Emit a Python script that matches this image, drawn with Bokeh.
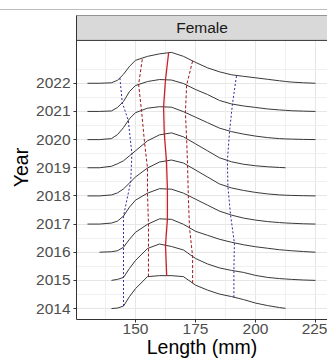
import numpy as np
from bokeh.plotting import figure
from bokeh.models import FixedTicker, Range1d, Div
from bokeh.layouts import column
from bokeh.embed import file_html
from bokeh.resources import INLINE
from bokeh.core.properties import value

# ---------------- data ----------------
years = [2014, 2015, 2016, 2017, 2018, 2019, 2020, 2021, 2022]
length_grid = [130, 135, 140, 142.5, 145, 147.5, 150, 155, 160, 165, 170, 175,
               180, 185, 190, 195, 200, 205, 210, 212.5, 215, 220, 225]
N = None
density_2014 = [N, N, 0, .0005, .0025, .012, .020, .032, .033, .033, .032, .0235,
                .0185, .0145, .012, .009, .0055, .003, .001, .0002, N, N, N]
density_2015 = [N, N, 0, .001, .003, .012, .020, .032, .0365, .034, .0305, .022,
                .0165, .0125, .010, .008, .005, .003, .0018, .0014, .001, .0004, 0]
density_2016 = [N, 0, .0005, .0015, .005, .013, .020, .028, .0335, .033, .028, .021,
                .017, .013, .010, .0075, .0055, .004, .0025, .002, .0015, .0007, 0]
density_2017 = [0, 0, .001, .003, .008, .017, .024, .031, .0355, .035, .031, .025,
                .019, .013, .009, .006, .004, .0025, .0015, .0011, .0008, .0003, 0]
density_2018 = [0, 0, .001, .003, .007, .013, .019, .028, .034, .036, .033, .026,
                .019, .012, .008, .0055, .0035, .002, .001, .0007, .0005, .0002, 0]
density_2019 = [0, 0, .0015, .004, .007, .012, .017, .027, .033, .035, .031, .024,
                .017, .010, .006, .0035, .002, .001, .0003, 0, N, N, N]
density_2020 = [0, 0, .001, .005, .012, .021, .027, .0315, .033, .0325, .028, .0225,
                .017, .0115, .008, .0055, .0035, .002, .001, .0007, .0005, .0002, 0]
density_2021 = [0, 0, .0005, .004, .010, .020, .026, .030, .032, .0315, .028, .022,
                .017, .011, .0075, .0055, .004, .0025, .0015, .0011, .0007, .0003, 0]
density_2022 = [0, 0, .0005, .003, .009, .017, .023, .027, .0295, .031, .027, .021,
                .0155, .0115, .0085, .007, .0055, .004, .0025, .0018, .0012, .0005, 0]
densities = [density_2014, density_2015, density_2016, density_2017, density_2018,
             density_2019, density_2020, density_2021, density_2022]

q_low = [145, 145, 145, 145, 148, 148.5, 147, 144.5, 143.5]          # blue dotted
q_25 = [155.4, 155.4, 155.4, 155, 155, 153.8, 152.5, 151.3, 152.9]   # red dashed
q_50 = [163, 162.5, 163.3, 163.3, 162.9, 162, 161.7, 162.5, 163.8]   # red solid
q_75 = [173.8, 173.8, 172.5, 172, 171.7, 171.3, 170.8, 171.3, 173.8] # red dashed
q_high = [191, 191, 191.2, 189.6, 188.5, 188.3, 189.2, 190.4, 192.1] # blue dotted

x_ticks = [150, 175, 200, 225]
facet_label = "Female"
x_title = "Length (mm)"
y_title = "Year"

# ---------------- figure ----------------
ridge_scale = 35.4
FONT = "Liberation Sans"
x_lo, x_hi = 125.42, 230.0
y_lo, y_hi = 2013.611, 2024.407
strip_bottom = 2023.522

p = figure(width=327, height=350, x_range=Range1d(x_lo, x_hi), y_range=Range1d(y_lo, y_hi),
           output_backend="svg", toolbar_location=None,
           min_border_left=76, min_border_right=0, min_border_top=5, min_border_bottom=40)
p.outline_line_color = None
p.background_fill_color = "white"
p.border_fill_color = "white"
p.margin = 0

p.xaxis.ticker = FixedTicker(ticks=x_ticks, minor_ticks=[137.5, 162.5, 187.5, 212.5])
p.yaxis.ticker = FixedTicker(ticks=years, minor_ticks=[y + 0.5 for y in years])

for g in (p.xgrid, p.ygrid):
    g.grid_line_color = "#E6E6E6"
    g.grid_line_width = 1
    g.minor_grid_line_color = "#F0F0F0"
    g.minor_grid_line_width = 1

for ax in (p.xaxis, p.yaxis):
    ax.axis_line_color = "#333333"
    ax.major_tick_line_color = "#333333"
    ax.major_tick_out = 3
    ax.major_tick_in = 0
    ax.minor_tick_out = 0
    ax.minor_tick_in = 0
    ax.major_label_text_font = FONT
    ax.major_label_text_font_size = "15.5px"
    ax.major_label_text_color = "#4D4D4D"
    ax.axis_label_text_font = FONT
    ax.axis_label_text_font_size = "19.5px"
    ax.axis_label_text_font_style = "normal"
    ax.axis_label_text_color = "black"

p.yaxis.major_label_standoff = 3
p.yaxis.axis_label = y_title
p.yaxis.axis_label_standoff = 1
p.xaxis.major_label_standoff = 1
p.xaxis.axis_label = x_title
p.xaxis.axis_label_standoff = -1

grid_arr = np.array(length_grid, dtype=float)
valid_curves = []
for yr, dens in zip(years, densities):
    d = np.array([np.nan if v is None else v for v in dens], dtype=float)
    m = ~np.isnan(d)
    xs, ds = grid_arr[m], d[m]
    valid_curves.append((xs, ds))
    p.line(xs, yr + ridge_scale * ds, line_color="#222222", line_width=0.9)

def qpath(qs):
    ys = []
    for yr, q, (xs, ds) in zip(years, qs, valid_curves):
        ys.append(yr + ridge_scale * np.interp(q, xs, ds))
    return ys

p.line(q_low, qpath(q_low), line_color="#2A2AA0", line_width=1, line_dash="2 2")
p.line(q_high, qpath(q_high), line_color="#2A2AA0", line_width=1, line_dash="2 2")
p.line(q_25, qpath(q_25), line_color="#A01818", line_width=1, line_dash="3 2")
p.line(q_75, qpath(q_75), line_color="#A01818", line_width=1, line_dash="3 2")
p.line(q_50, qpath(q_50), line_color="#C8202A", line_width=1.3)

# facet strip
p.quad(left=[x_lo], right=[x_hi + 5], bottom=[strip_bottom], top=[y_hi],
       fill_color="#D9D9D9", line_color="#333333", line_width=1)
p.text(x=[(x_lo + x_hi) / 2], y=[(strip_bottom + y_hi) / 2], text=[facet_label],
       text_align="center", text_baseline="middle", text_font=value(FONT),
       text_font_size="15.5px", text_color="#1A1A1A")

top_rule = Div(text="", width=327, height=10, margin=0,
               styles={"border-bottom": "1px solid #BDBDBD", "box-sizing": "border-box"})
layout = column(top_rule, p, spacing=0, margin=0)

open("out.html", "w").write(file_html(layout, INLINE))
